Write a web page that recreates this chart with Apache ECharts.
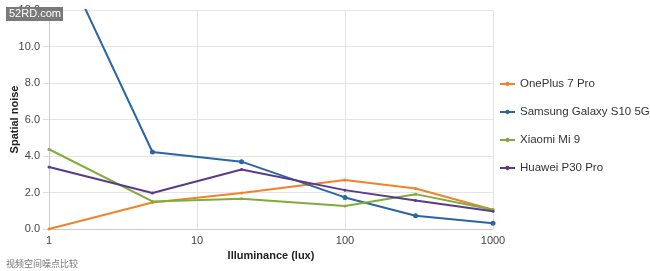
<!DOCTYPE html>
<html><head><meta charset="utf-8">
<script src="https://cdn.jsdelivr.net/npm/echarts@6/dist/echarts.min.js"></script>
<style>html,body{margin:0;padding:0;background:#fff}#c{width:650px;height:271px}</style>
</head><body><div id="c"></div>
<script>
const lux = [1, 5, 20, 100, 300, 1000];
const seriesNames = ['OnePlus 7 Pro', 'Samsung Galaxy S10 5G', 'Xiaomi Mi 9', 'Huawei P30 Pro'];
const onePlus = [0.0, 1.45, 1.97, 2.69, 2.22, 1.05];
const samsung = [16.3, 4.22, 3.69, 1.73, 0.73, 0.31];
const xiaomi = [4.37, 1.51, 1.66, 1.26, 1.91, 1.05];
const huawei = [3.4, 1.97, 3.26, 2.13, 1.56, 0.97];
const colors = ['#f0822a', '#2a66a6', '#80ac3a', '#5a3a8c'];
const values = [onePlus, samsung, xiaomi, huawei];
const FONT = 'Liberation Sans';
const legendIcon = 'path://M0,6h16v2H0z M8,4.7a2.3,2.3 0 1 1 -0.01 0z';

const chart = echarts.init(document.getElementById('c'));
chart.setOption({
  animation: false,
  textStyle: {fontFamily: FONT},
  grid: {left: 49, right: 157, top: 10, bottom: 42, containLabel: false, outerBoundsMode: 'none'},
  legend: {
    orient: 'vertical', left: 500, top: 78, padding: 0, itemGap: 16, itemWidth: 15, itemHeight: 12,
    icon: legendIcon,
    textStyle: {fontSize: 11.5, color: '#333', fontFamily: FONT},
    data: seriesNames
  },
  xAxis: {
    type: 'log', logBase: 10, min: 1, max: 1000,
    name: 'Illuminance (lux)', nameLocation: 'middle', nameGap: 19,
    nameTextStyle: {fontWeight: 'bold', fontSize: 11, color: '#222', fontFamily: FONT},
    axisLine: {lineStyle: {color: '#ccc'}},
    axisTick: {show: false},
    axisLabel: {fontSize: 11, color: '#444', margin: 6, formatter: v => String(Math.round(v))},
    splitLine: {show: true, lineStyle: {color: '#e4e4e4'}},
    minorTick: {show: false}
  },
  yAxis: {
    type: 'value', min: 0, max: 12, interval: 2,
    name: 'Spatial noise', nameLocation: 'middle', nameGap: 29, nameMoveOverlap: false,
    nameTextStyle: {fontWeight: 'bold', fontSize: 11, color: '#222', fontFamily: FONT},
    axisLine: {show: true, lineStyle: {color: '#ccc'}},
    axisTick: {show: true, length: 6, lineStyle: {color: '#ddd'}},
    axisLabel: {fontSize: 11, color: '#444', margin: 9, formatter: v => v.toFixed(1)},
    splitLine: {lineStyle: {color: '#e4e4e4'}}
  },
  series: seriesNames.map((n, i) => ({
    name: n, type: 'line', clip: true,
    data: lux.map((x, j) => [x, values[i][j]]),
    color: colors[i],
    symbol: 'circle', symbolSize: i === 1 ? 5 : 3, showSymbol: true,
    lineStyle: {width: 2}
  })),
  graphic: [
    {type: 'rect', left: 6, top: 7, shape: {width: 57, height: 14}, style: {fill: '#7a7a7a'}, z: 100},
    {type: 'text', left: 9, top: 8, style: {text: '52RD.com', fill: '#fff', font: '11px "Liberation Sans"'}, z: 101},
    {type: 'text', left: 6, top: 259, style: {text: '视频空间噪点比较', fill: '#777', font: '9px "Noto Sans CJK SC"'}}
  ]
});
</script></body></html>
